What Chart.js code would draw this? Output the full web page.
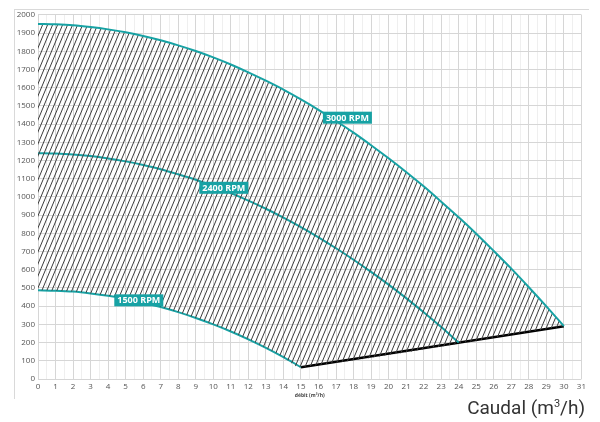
<!DOCTYPE html>
<html>
<head>
<meta charset="utf-8">
<script src="https://cdn.jsdelivr.net/npm/chart.js@4.4.0/dist/chart.umd.min.js"></script>
<style>
  body { margin: 0; background: #fff; width: 600px; height: 422px; position: relative; overflow: hidden; }
  #frame { position: absolute; left: 14px; top: 9px; width: 574px; height: 389px;
           border-top: 1px solid #d9d9d9; border-left: 1px solid #d9d9d9; }
  #chart-wrap { position: absolute; left: 0; top: -3px; width: 574px; height: 392px; }
  #caudal { position: absolute; right: 15px; top: 396px; font-family: Roboto, sans-serif;
            font-size: 19px; color: #333; }
</style>
</head>
<body>
<div id="frame"><div id="chart-wrap"><canvas id="pump-chart"></canvas></div></div>
<div id="caudal">Caudal (m<sup style="font-size:11px">3</sup>/h)</div>
<script>
// Flow (m3/h) and head readings for each speed curve
const flow3000 = [0,1,2,3,4,5,6,7,8,9,10,11,12,13,14,15,16,17,18,19,20,21,22,23,24,25,26,27,28,29,30];
const head3000 = [1950,1948,1943,1933,1920,1904,1884,1860,1832,1801,1766,1727,1684,1638,1589,1535,1478,1417,1353,1284,1212,1137,1058,974,888,798,703,606,504,399,290];

const flow2400 = [0,1,2,3,4,5,6,7,8,9,10,11,12,13,14,15,16,17,18,19,20,21,22,23,24];
const head2400 = [1240,1238,1233,1224,1211,1195,1175,1152,1124,1094,1059,1021,980,935,886,834,778,718,655,588,518,444,366,285,200];

const flow1500 = [0,1,2,3,4,5,6,7,8,9,10,11,12,13,14,15];
const head1500 = [487,485,480,470,457,440,420,395,367,335,300,261,218,171,120,65];

// System (minimum) line
const systemFlow = [15, 30];
const systemHead = [65, 290];

// Curve labels: [text, flow, head]
const curveLabels = [
    ['3000 RPM', 17.65, 1435],
    ['2400 RPM', 10.6, 1050],
    ['1500 RPM', 5.75, 432]
];

const xMax = 31;
const yMax = 2000;

const teal = '#17a2a4';

function toPoints(xs, ys) {
    return xs.map((x, i) => ({ x: x, y: ys[i] }));
}

function makeHatch() {
    const c = document.createElement('canvas');
    c.width = 5;
    c.height = 12;
    const g = c.getContext('2d');
    g.strokeStyle = '#3c3c3c';
    g.lineWidth = 1;
    [-5, 0, 5].forEach(off => {
        g.beginPath();
        g.moveTo(off, 12);
        g.lineTo(off + 5, 0);
        g.stroke();
    });
    return g.createPattern(c, 'repeat');
}

// lower edge of the shaded zone: 1500 RPM curve then the system line
const lowerPoints = toPoints(flow1500, head1500).concat(toPoints(systemFlow.slice(1), systemHead.slice(1)));

const labelPlugin = {
    id: 'curveLabels',
    afterDatasetsDraw(chart) {
        const ctx = chart.ctx;
        const xs = chart.scales.x, ys = chart.scales.y;
        ctx.save();
        ctx.font = 'bold 9px "Open Sans", sans-serif';
        ctx.textAlign = 'center';
        ctx.textBaseline = 'middle';
        curveLabels.forEach(([txt, q, h]) => {
            const px = xs.getPixelForValue(q);
            const py = ys.getPixelForValue(h);
            const w = ctx.measureText(txt).width + 6;
            ctx.fillStyle = teal;
            ctx.fillRect(px - w / 2, py - 6, w, 12);
            ctx.fillStyle = '#fff';
            ctx.fillText(txt, px, py + 0.5);
        });
        ctx.restore();
    }
};

const tickFont = { family: '"Open Sans", sans-serif', size: 8 };

new Chart(document.getElementById('pump-chart'), {
    type: 'line',
    data: {
        datasets: [
            {
                label: '3000 RPM',
                data: toPoints(flow3000, head3000),
                borderColor: teal,
                borderWidth: 2,
                pointRadius: 0,
                tension: 0.3,
                fill: { target: 4 },
                backgroundColor: makeHatch()
            },
            {
                label: '2400 RPM',
                data: toPoints(flow2400, head2400),
                borderColor: teal,
                borderWidth: 2,
                pointRadius: 0,
                tension: 0.3,
                fill: false
            },
            {
                label: '1500 RPM',
                data: toPoints(flow1500, head1500),
                borderColor: teal,
                borderWidth: 2,
                pointRadius: 0,
                tension: 0.3,
                fill: false
            },
            {
                label: 'system',
                data: toPoints(systemFlow, systemHead),
                borderColor: '#000',
                borderWidth: 2.5,
                pointRadius: 0,
                fill: false
            },
            {
                label: 'lower',
                data: lowerPoints,
                borderColor: 'rgba(0,0,0,0)',
                borderWidth: 0,
                pointRadius: 0,
                tension: 0.3,
                fill: false
            }
        ]
    },
    options: {
        responsive: true,
        maintainAspectRatio: false,
        animation: false,
        layout: { padding: { left: 0, right: 6, top: 1, bottom: 0 } },
        plugins: {
            legend: { display: false },
            tooltip: { enabled: false }
        },
        scales: {
            x: {
                type: 'linear',
                min: 0,
                max: xMax,
                ticks: {
                    stepSize: 0.5,
                    autoSkip: false,
                    maxRotation: 0,
                    padding: 3,
                    color: '#555',
                    font: tickFont,
                    callback: v => (v % 1 === 0 ? String(v) : '')
                },
                grid: {
                    drawTicks: false,
                    color: c => (c.tick && c.tick.value % 1 !== 0 ? '#efefef' : '#d6d6d6')
                },
                border: { display: false },
                title: {
                    display: true,
                    text: 'débit (m³/h)',
                    color: '#444',
                    font: { family: '"Open Sans", sans-serif', size: 5, weight: 'bold' },
                    padding: { top: 1, bottom: 0 }
                },
                afterFit: s => { s.height = 20; }
            },
            y: {
                min: 0,
                max: yMax,
                ticks: {
                    stepSize: 100,
                    padding: 3,
                    color: '#555',
                    font: tickFont,
                    callback: v => String(v)
                },
                grid: { drawTicks: false, color: '#d6d6d6' },
                border: { display: false },
                afterFit: s => { s.width = 23; }
            }
        }
    },
    plugins: [labelPlugin]
});
</script>
</body>
</html>
